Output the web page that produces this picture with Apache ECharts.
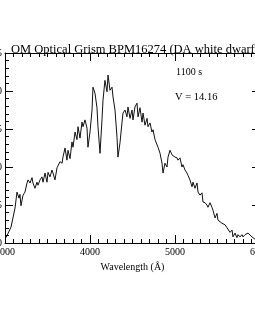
<!DOCTYPE html>
<html><head><meta charset="utf-8">
<script src="https://cdn.jsdelivr.net/npm/echarts@6/dist/echarts.min.js"></script>
<style>html,body{margin:0;padding:0;background:#fff}#c{width:255px;height:314px}</style>
</head><body><div id="c"></div>
<script>
const titleText = "OM Optical Grism BPM16274 (DA white dwarf)";
const xName = "Wavelength (Å)";
const notes = ["1100 s", "V = 14.16"];
const wavelength = [3012,3071,3118,3141,3153,3165,3176,3188,3212,3235,3259,3271,3294,3318,3329,3353,3376,3388,3412,3435,3447,3471,3494,3506,3529,3553,3565,3588,3612,3624,3647,3671,3682,3706,3729,3741,3765,3788,3800,3824,3847,3859,3882,3906,3918,3941,3965,3976,4000,4024,4035,4059,4082,4094,4118,4141,4153,4176,4200,4212,4235,4259,4271,4294,4318,4329,4353,4376,4388,4412,4435,4447,4471,4494,4506,4529,4553,4565,4588,4612,4624,4647,4671,4682,4706,4729,4741,4765,4788,4800,4824,4847,4859,4882,4906,4918,4941,4965,4976,5000,5024,5035,5059,5082,5094,5118,5141,5153,5176,5200,5212,5235,5259,5271,5294,5318,5329,5353,5376,5388,5412,5435,5447,5471,5494,5506,5529,5553,5565,5588,5612,5624,5647,5671,5682,5706,5729,5741,5765,5788,5800,5824,5847,5859,5882,5906,5918,5941,5990];
const flux = [0.7,2.1,4.6,6.7,6.8,5.9,6.4,4.9,6.3,6.7,7.9,8.3,7.9,8.6,7.9,7.2,8.0,7.6,8.3,8.7,8.0,9.2,8.0,9.3,8.7,9.6,9.2,8.3,9.9,10.0,10.7,10.5,11.3,12.5,10.9,12.2,11.1,13.3,12.6,14.6,13.6,15.3,13.8,15.9,15.3,16.2,15.1,12.6,14.6,17.5,20.5,19.7,17.8,15.3,11.8,16.2,18.8,21.4,19.9,22.1,20.1,20.5,19.2,17.5,13.9,11.3,13.2,15.8,17.1,17.5,16.6,17.9,16.4,17.5,16.2,17.9,18.4,16.6,17.8,15.9,17.1,15.5,16.4,15.3,15.8,14.6,14.9,13.6,13.8,12.6,11.8,10.5,9.2,10.5,10.0,11.3,12.2,11.6,11.8,11.3,11.2,10.9,11.2,10.0,10.3,9.6,9.2,8.9,8.3,7.4,8.0,7.2,7.9,6.7,6.3,6.6,5.4,5.3,5.0,4.7,5.3,4.7,4.3,3.3,3.9,3.0,2.8,2.6,2.8,2.4,2.0,2.1,1.4,1.7,0.8,1.3,0.7,1.1,0.8,1.1,0.8,1.1,1.3,1.3,1.1,0.8,0.7,0.5,0.6];
const xTicks = [3000,4000,5000,6000];
const yTicks = [0,5,10,15,20,25];

const FONT = "Liberation Serif";
const chart = echarts.init(document.getElementById('c'), null, {renderer:'canvas'});
const tickStyle = {color:'#000', width:1};
const baseX = {
  type:'value', min:xTicks[0], max:xTicks[xTicks.length-1], interval:1000,
  axisLine:{show:true, onZero:false, lineStyle:{color:'#000', width:1}},
  axisTick:{show:true, inside:true, length:8, lineStyle:tickStyle},
  minorTick:{show:true, splitNumber:10, length:4, lineStyle:tickStyle},
  splitLine:{show:false}
};
const baseY = {
  type:'value', min:yTicks[0], max:yTicks[yTicks.length-1], interval:5,
  axisLine:{show:true, onZero:false, lineStyle:{color:'#000', width:1}},
  axisTick:{show:true, inside:true, length:8, lineStyle:tickStyle},
  minorTick:{show:true, splitNumber:5, length:4, lineStyle:tickStyle},
  splitLine:{show:false}
};
chart.setOption({
  animation:false,
  backgroundColor:'#fff',
  title:{text:titleText, left:130, top:38, textAlign:'center',
    textStyle:{fontFamily:FONT, fontSize:12.5, fontWeight:'normal', color:'#000'}},
  grid:{left:5, right:-5, top:53, bottom:71, containLabel:false, outerBoundsMode:'none'},
  xAxis:[
    Object.assign({}, baseX, {position:'bottom', name:xName, nameLocation:'middle', nameGap:17,
      nameTextStyle:{fontFamily:FONT, fontSize:10, color:'#000'},
      axisLabel:{show:true, margin:4, fontFamily:FONT, fontSize:10, color:'#000', showMinLabel:true, showMaxLabel:true,
        formatter:v=>String(v)}}),
    Object.assign({}, baseX, {position:'top', axisLabel:{show:false}})
  ],
  yAxis:[
    Object.assign({}, baseY, {position:'left',
      axisLabel:{show:true, margin:3, fontFamily:FONT, fontSize:10, color:'#000', showMinLabel:true, showMaxLabel:true,
        formatter:v=>String(v)}}),
    Object.assign({}, baseY, {position:'right', axisLabel:{show:false}})
  ],
  graphic:[
    {type:'text', left:176, top:67, style:{text:notes[0], font:'10px "Liberation Serif"', fill:'#000'}},
    {type:'text', left:175, top:92, style:{text:notes[1], font:'10.5px "Liberation Serif"', fill:'#000'}}
  ],
  series:[{
    type:'line', xAxisIndex:0, yAxisIndex:0,
    data: wavelength.map((w,i)=>[w, flux[i]]),
    showSymbol:false, symbol:'none',
    lineStyle:{color:'#111', width:1}, clip:true
  }]
});
</script></body></html>
